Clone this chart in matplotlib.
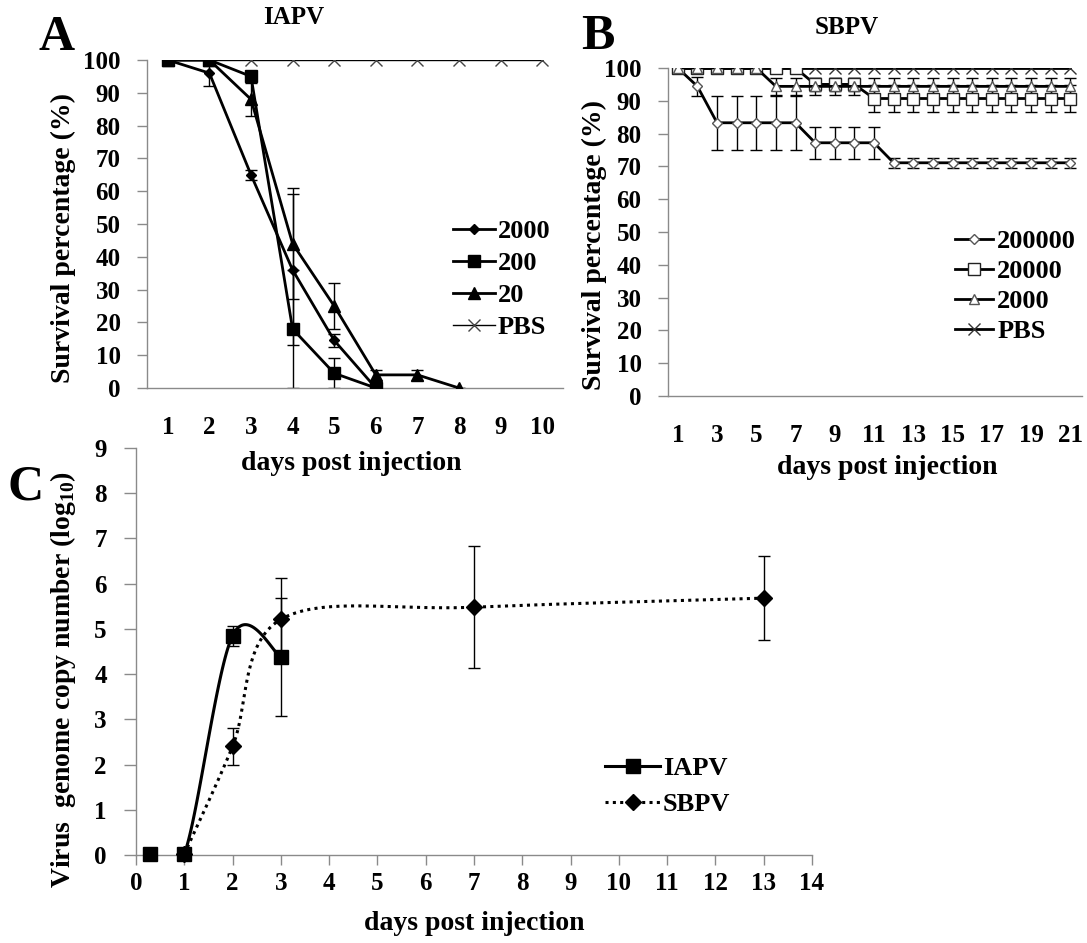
import numpy as np
import matplotlib
matplotlib.use('Agg')
import matplotlib.pyplot as plt

plt.rcParams['font.family'] = ['Liberation Serif', 'DejaVu Serif']
plt.rcParams['font.weight'] = 'bold'
plt.rcParams['axes.labelweight'] = 'bold'
plt.rcParams['mathtext.fontset'] = 'custom'
plt.rcParams['mathtext.rm'] = 'Liberation Serif:bold'
plt.rcParams['mathtext.bf'] = 'Liberation Serif:bold'

# ---- panel A : IAPV survival ----
a_days = [1, 2, 3, 4, 5, 6, 7, 8, 9, 10]
a_2000 = [100, 96, 65, 36, 14.5, 0]
a_2000_err = [0, 4, 1.5, 23, 2, 0]
a_200 = [100, 100, 95, 18, 4.5, 0]
a_200_err = [0, 0, 0, 18, 4.5, 0]
a_20 = [100, 100, 88, 44, 25, 4, 4, 0]
a_20_err = [0, 0, 5, 17, 7, 1.5, 1.5, 0]
a_pbs = [100, 100, 100, 100, 100, 100, 100, 100, 100, 100]

# ---- panel B : SBPV survival ----
b_days = list(range(1, 22))
b_200000 = [100, 94.4] + [83.3] * 5 + [77.2] * 4 + [71.1] * 10
b_200000_err = [0, 3] + [8.3] * 5 + [4.8] * 4 + [1.5] * 10
b_20000 = [100] * 7 + [95] * 3 + [90.7] * 11
b_20000_err = [0] * 7 + [2] * 3 + [4] * 11
b_2000 = [100] * 5 + [94.4] * 16
b_2000_err = [0] * 5 + [2.5] * 16
b_pbs = [100] * 21

# ---- panel C : genome copies ----
c_iapv_days = [0.3, 1, 2, 3]
c_iapv = [0.02, 0.02, 4.85, 4.38]
c_iapv_err = [0, 0, 0.22, 1.3]
c_sbpv_days = [1, 2, 3, 7, 13]
c_sbpv = [0.02, 2.4, 5.21, 5.48, 5.68]
c_sbpv_err = [0, 0.4, 0.91, 1.35, 0.93]

W, H = 1087, 943
fig = plt.figure(figsize=(W / 100, H / 100), dpi=100)

TICK = 18
LAB = 20
LEG = 19


def box(l, t, r, b):
    return [l / W, 1 - b / H, (r - l) / W, (b - t) / H]


def style(ax, ticklen_x=0):
    ax.patch.set_visible(False)
    for s in ['top', 'right']:
        ax.spines[s].set_visible(False)
    for s in ['left', 'bottom']:
        ax.spines[s].set_color('#8a8a8a')
        ax.spines[s].set_linewidth(1)
    ax.tick_params(axis='y', length=7, width=1, color='#8a8a8a', labelsize=TICK, pad=12)
    ax.tick_params(axis='x', length=ticklen_x, width=1, color='#8a8a8a', labelsize=TICK)


def excel_smooth(ax, xs, ys, n=40):
    # Excel-like smoothed line (bezier through the points, in display space)
    pts = ax.transData.transform(np.column_stack([xs, ys]))
    out = [pts[0]]
    t = np.linspace(0, 1, n)[1:, None]
    for i in range(len(pts) - 1):
        p0 = pts[i - 1] if i > 0 else pts[i]
        p1, p2 = pts[i], pts[i + 1]
        p3 = pts[i + 2] if i + 2 < len(pts) else pts[i + 1]
        c1 = p1 + (p2 - p0) / 6
        c2 = p2 - (p3 - p1) / 6
        seg = (1 - t) ** 3 * p1 + 3 * (1 - t) ** 2 * t * c1 + 3 * (1 - t) * t ** 2 * c2 + t ** 3 * p2
        out.extend(seg)
    return ax.transData.inverted().transform(np.array(out))


ebar = dict(fmt='none', ecolor='black', elinewidth=1, capsize=4, capthick=1, zorder=2)

# ===== A =====
axA = fig.add_axes(box(147, 60, 563, 388))
style(axA)
axA.set_xlim(0.5, 10.5)
axA.set_ylim(0, 100)
axA.set_yticks(range(0, 101, 10))
axA.set_xticks(a_days)
axA.tick_params(axis='x', pad=20)
axA.plot(a_days, a_pbs, color='black', lw=1, marker='x', ms=9, mew=1, mec='#444444', zorder=3)
axA.errorbar(a_days[:6], a_2000, yerr=a_2000_err, **ebar)
axA.errorbar(a_days[:6], a_200, yerr=a_200_err, **ebar)
axA.errorbar(a_days[:8], a_20, yerr=a_20_err, **ebar)
l1, = axA.plot(a_days[:6], a_2000, color='black', lw=2, marker='D', ms=5, zorder=4)
l2, = axA.plot(a_days[:6], a_200, color='black', lw=2, marker='s', ms=8.5, zorder=4)
l3, = axA.plot(a_days[:8], a_20, color='black', lw=2, marker='^', ms=8, zorder=4)
l4 = axA.lines[0]
axA.legend([l1, l2, l3, l4], ['2000', '200', '20', 'PBS'], loc='upper left',
           bbox_to_anchor=(453 / W, 1 - 220 / H), bbox_transform=fig.transFigure,
           frameon=False, borderpad=0, borderaxespad=0, handlelength=1.6,
           handletextpad=0.1, labelspacing=0.32, fontsize=LEG)
axA.set_ylabel('Survival percentage (%)', fontsize=LAB, va='center')
axA.yaxis.set_label_coords((63 - 147) / 416, (388 - 238) / 328)
axA.set_xlabel('days post injection', fontsize=LAB)
axA.xaxis.set_label_coords((351 - 147) / 416, -(463 - 388) / 328)
axA.xaxis.label.set_va('center')

# ===== B =====
axB = fig.add_axes(box(668, 68, 1082, 396))
style(axB)
axB.set_xlim(0.5, 21.6)
axB.set_ylim(0, 100)
axB.set_yticks(range(0, 101, 10))
axB.set_xticks(b_days[::2])
axB.tick_params(axis='x', pad=20)
axB.errorbar(b_days, b_200000, yerr=b_200000_err, **ebar)
axB.errorbar(b_days, b_20000, yerr=b_20000_err, **ebar)
axB.errorbar(b_days, b_2000, yerr=b_2000_err, **ebar)
m1, = axB.plot(b_days, b_200000, color='black', lw=2, marker='D', ms=5.5, mfc='white', mec='#555555', mew=1, zorder=4)
m2, = axB.plot(b_days, b_20000, color='black', lw=2, marker='s', ms=8, mfc='white', mec='#222222', mew=1, zorder=4)
m3, = axB.plot(b_days, b_2000, color='black', lw=2, marker='^', ms=7.5, mfc='white', mec='#555555', mew=1, zorder=4)
m4, = axB.plot(b_days, b_pbs, color='black', lw=2, marker='x', ms=9, mew=1, mec='#333333', zorder=3)
axB.legend([m1, m2, m3, m4], ['200000', '20000', '2000', 'PBS'], loc='upper left',
           bbox_to_anchor=(955 / W, 1 - 230 / H), bbox_transform=fig.transFigure,
           frameon=False, borderpad=0, borderaxespad=0, handlelength=1.45,
           handletextpad=0.15, labelspacing=0.24, fontsize=LEG)
axB.set_ylabel('Survival percentage (%)', fontsize=LAB, va='center')
axB.yaxis.set_label_coords((594 - 668) / 414, (396 - 245) / 328)
axB.set_xlabel('days post injection', fontsize=LAB)
axB.xaxis.set_label_coords((887 - 668) / 414, -(468 - 396) / 328)
axB.xaxis.label.set_va('center')

# ===== C =====
axC = fig.add_axes(box(136, 448, 812, 855))
style(axC, ticklen_x=7)
axC.set_xlim(0, 14)
axC.set_ylim(0, 9)
axC.set_xticks(range(0, 15))
axC.set_yticks(range(0, 10))
axC.tick_params(axis='x', pad=5)
axC.tick_params(axis='y', length=9)
sx, sy = excel_smooth(axC, c_iapv_days, c_iapv).T
axC.plot(sx, sy, color='black', lw=2.2, zorder=3)
sx, sy = excel_smooth(axC, c_sbpv_days, c_sbpv).T
axC.plot(sx, sy, color='black', lw=2.2, ls=(0, (1, 1.4)), zorder=3)
axC.errorbar(c_iapv_days, c_iapv, yerr=c_iapv_err, **ebar)
axC.errorbar(c_sbpv_days, c_sbpv, yerr=c_sbpv_err, **ebar)
axC.plot(c_sbpv_days, c_sbpv, ls='none', marker='D', ms=8, color='black', zorder=4, clip_on=False)
axC.plot(c_iapv_days, c_iapv, ls='none', marker='s', ms=9.5, color='black', zorder=5, clip_on=False)
h1, = axC.plot([], [], color='black', lw=2.2, marker='s', ms=9.5)
h2, = axC.plot([], [], color='black', lw=2.2, ls=(0, (1, 1.4)), marker='D', ms=8)
axC.legend([h1, h2], ['IAPV', 'SBPV'], loc='upper left',
           bbox_to_anchor=(605 / W, 1 - 757 / H), bbox_transform=fig.transFigure,
           frameon=False, borderpad=0, borderaxespad=0, handlelength=2.1,
           handletextpad=0.1, labelspacing=0.45, fontsize=LEG)
axC.set_ylabel(r'Virus  genome copy number (log$_{\mathbf{10}}$)', fontsize=LAB, va='center')
axC.yaxis.set_label_coords((63 - 136) / 676, (855 - 680) / 407)
axC.set_xlabel('days post injection', fontsize=LAB)
axC.xaxis.set_label_coords(0.5, -(924 - 855) / 407)
axC.xaxis.label.set_va('center')

# titles and panel letters
fig.text(294 / W, 1 - 18 / H, 'IAPV', ha='center', va='center', fontsize=18)
fig.text(847 / W, 1 - 27 / H, 'SBPV', ha='center', va='center', fontsize=18)
fig.text(57 / W, 1 - 38 / H, 'A', ha='center', va='center', fontsize=36)
fig.text(598 / W, 1 - 37 / H, 'B', ha='center', va='center', fontsize=36)
fig.text(26 / W, 1 - 487 / H, 'C', ha='center', va='center', fontsize=36)

fig.savefig('out.png', dpi=100)
